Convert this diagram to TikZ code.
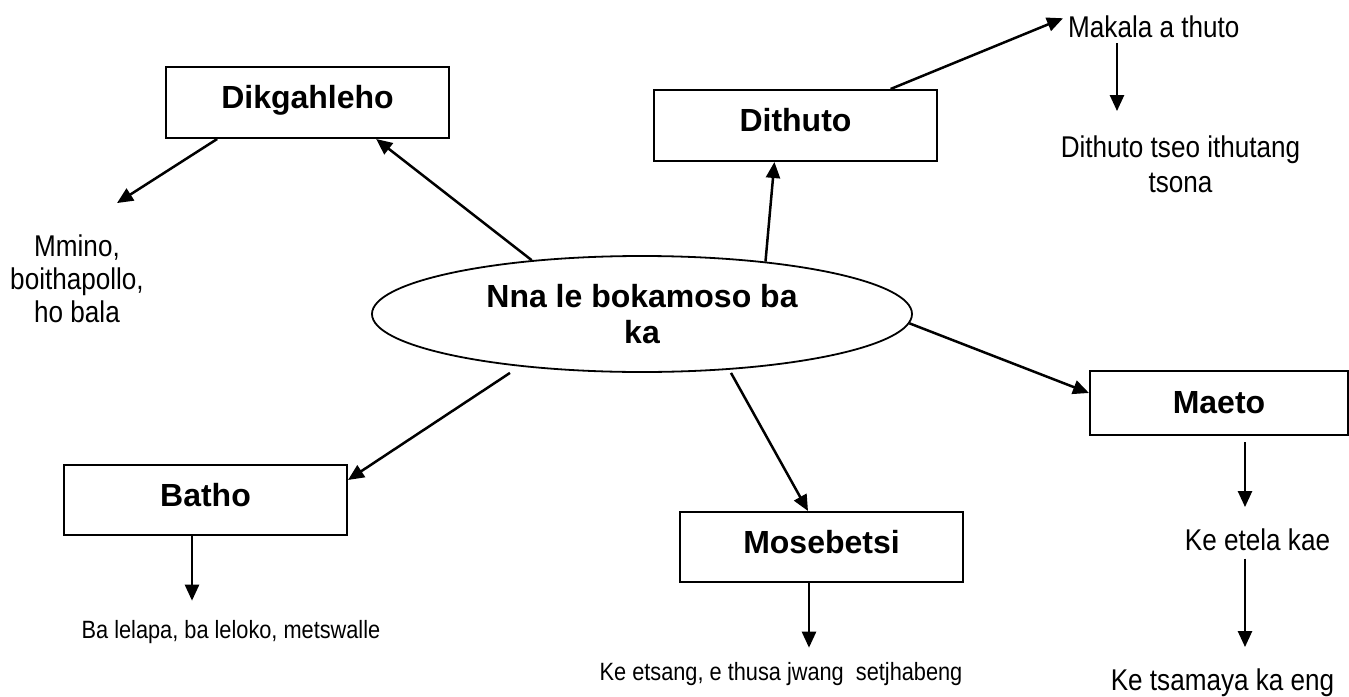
\documentclass[tikz,border=0pt]{standalone}
\usepackage{fontspec}
\setmainfont{Liberation Sans}
\newfontfamily\narrowsans[FakeStretch=0.87]{Liberation Sans}
\usetikzlibrary{arrows.meta,shapes.geometric}
\begin{document}
\begin{tikzpicture}[x=1pt,y=-1pt,
  box/.style={draw,line width=2pt,rectangle,inner sep=0pt,minimum width=283pt,minimum height=71pt,
    font=\fontsize{32}{37}\selectfont\bfseries,text height=20pt,text depth=8pt},
  lbl/.style={inner sep=0pt,font=\narrowsans\fontsize{30}{33}\selectfont,align=center},
  small/.style={inner sep=0pt,font=\narrowsans\fontsize{25}{28}\selectfont},
  arr/.style={line width=2.5pt,-{Triangle[length=16pt,width=14pt]}}]
\useasboundingbox (0,0) rectangle (1349,696);

% central ellipse
\node[ellipse,draw,line width=1.8pt,minimum width=540pt,minimum height=116pt,inner sep=0pt,
  align=center,font=\fontsize{32}{36}\selectfont\bfseries] (ell) at (642,314) {Nna le bokamoso ba\\ka};

% boxes
\node[box] (dik) at (307.5,102.5) {Dikgahleho};
\node[box] (dit) at (795.5,125.5) {Dithuto};
\node[box,minimum height=70pt] (bat) at (205.5,500) {Batho};
\node[box,minimum height=70pt] (mos) at (821.5,547) {Mosebetsi};
\node[box,minimum width=258pt,minimum height=64pt,text height=21pt,text depth=1pt] (mae) at (1219,403) {Maeto};

% plain texts (base of a multi-line node = baseline of its last line)
\node[lbl,anchor=base,font=\narrowsans\fontsize{30}{33}\selectfont] (mm) at (77,322) {Mmino,\\boithapollo,\\ho bala};
\node[lbl,anchor=base west] (mak) at (1068,37) {Makala a thuto};
\node[lbl,anchor=base,font=\narrowsans\fontsize{30}{35}\selectfont] (dts) at (1180.5,192) {Dithuto tseo ithutang\\tsona};
\node[lbl,anchor=base] (kek) at (1257.5,550) {Ke etela kae};
\node[lbl,anchor=base] (kts) at (1222.5,690) {Ke tsamaya ka eng};
\node[small,anchor=base] (bl) at (231,638) {Ba lelapa, ba leloko, metswalle};
\node[small,anchor=base] (ke) at (781,680) {Ke etsang, e thusa jwang\ \ setjhabeng};

% connectors
\draw[arr] (ell.154.5) -- (dik.-28.5);
\draw[arr] (dik.-158.1) -- ([xshift=40pt,yshift=31pt]mm.north);
\draw[arr] (ell.23.9) -- (dit.-120);
\draw[arr] (dit.21.6) -- ([xshift=-5pt,yshift=8pt]mak.west);
\draw[arr] ([xshift=49pt,yshift=-6pt]mak.base west) -- ([xshift=-63.5pt,yshift=24pt]dts.north);
\draw[arr] ([xshift=-132pt]ell.south) -- (bat.8);
\draw[arr] ([xshift=89pt]ell.south) -- ([xshift=-13.5pt]mos.north);
\draw[arr] (ell.-2) -- ([yshift=10pt]mae.west);
\draw[arr] ([xshift=26pt,yshift=-6pt]mae.south) -- ([xshift=-12.5pt,yshift=21pt]kek.north);
\draw[arr] ([xshift=-12.5pt,yshift=-8pt]kek.south) -- ([xshift=22.5pt,yshift=21pt]kts.north);
\draw[arr] ([xshift=-13.5pt]bat.south) -- ([xshift=-39pt,yshift=19pt]bl.north);
\draw[arr] ([xshift=-12.5pt]mos.south) -- ([xshift=28pt,yshift=14pt]ke.north);
\end{tikzpicture}
\end{document}
